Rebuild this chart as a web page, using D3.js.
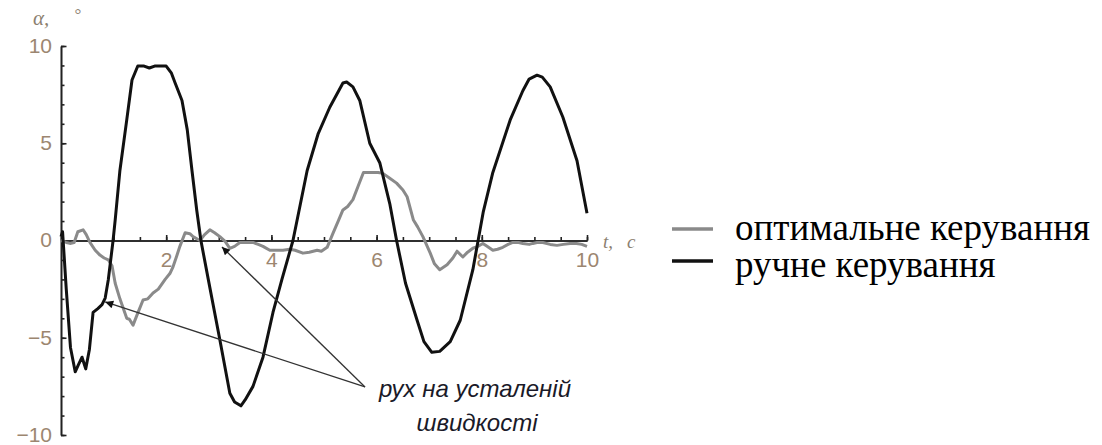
<!DOCTYPE html>
<html>
<head>
<meta charset="utf-8">
<script src="https://cdn.jsdelivr.net/npm/d3@7"></script>
<style>
    body { margin: 0; background: #fff; }
    svg { display: block; }
    .tick text { font-family: "Liberation Sans", Arial, sans-serif; font-size: 21px; fill: #9c8670; }
    .legend { font-family: "Liberation Serif", "Times New Roman", serif; font-size: 37px; fill: #000; }
    .note { font-family: "Liberation Sans", Arial, sans-serif; font-style: italic; font-size: 24px; fill: #1a1a28; }
    .axlabel { font-family: "Liberation Serif", serif; font-style: italic; fill: #8c8070; }
</style>
</head>
<body>
<svg width="1102" height="445"></svg>
<script>
// ручне керування (black)
const tManual = [0, 0.03, 0.1, 0.18, 0.27, 0.33, 0.4, 0.47, 0.54, 0.61, 0.7, 0.78, 0.84, 0.9, 0.99,
    1.03, 1.12, 1.25, 1.35, 1.46, 1.58, 1.68, 1.78, 2.0, 2.1, 2.17, 2.3, 2.4, 2.49, 2.58, 2.66,
    2.8, 3.02, 3.21, 3.3, 3.42, 3.5, 3.65, 3.84, 4.03, 4.2, 4.41, 4.68, 4.89, 5.11, 5.36, 5.43,
    5.55, 5.68, 5.87, 6.06, 6.25, 6.38, 6.55, 6.77, 6.9, 7.05, 7.2, 7.4, 7.59, 7.83, 7.93, 8.03,
    8.21, 8.54, 8.78, 8.9, 9.05, 9.15, 9.3, 9.54, 9.81, 10]
const aManual = [0.2, 0.45, -2.5, -5.5, -6.75, -6.4, -6.0, -6.6, -5.6, -3.7, -3.5, -3.3, -2.96, -2.0, 0,
    1.05, 3.6, 6.2, 8.25, 8.97, 8.97, 8.87, 8.97, 8.97, 8.6, 8.1, 7.2, 5.7, 3.6, 1.57, 0,
    -2.0, -5.1, -7.85, -8.3, -8.5, -8.2, -7.5, -6.0, -3.7, -2.0, 0, 3.6, 5.5, 6.85, 8.1, 8.15,
    7.9, 7.2, 5.0, 4.0, 1.9, 0, -2.2, -4.1, -5.2, -5.75, -5.7, -5.2, -4.1, -1.5, 0, 1.5,
    3.5, 6.2, 7.7, 8.3, 8.5, 8.4, 7.9, 6.35, 4.1, 1.4]

// оптимальне керування (grey)
const tOptimal = [0, 0.1, 0.17, 0.25, 0.32, 0.42, 0.48, 0.55, 0.65, 0.74, 0.82, 0.9, 0.97, 1.03, 1.12,
    1.25, 1.3, 1.37, 1.45, 1.56, 1.65, 1.75, 1.85, 1.98, 2.07, 2.13, 2.2, 2.26, 2.36, 2.45, 2.51,
    2.64, 2.73, 2.83, 2.92, 3.02, 3.12, 3.21, 3.3, 3.4, 3.55, 3.65, 3.75, 3.84, 3.97, 4.1, 4.22,
    4.35, 4.45, 4.6, 4.72, 4.87, 4.95, 5.06, 5.17, 5.27, 5.36, 5.45, 5.55, 5.65, 5.75, 5.93, 6.03,
    6.12, 6.25, 6.38, 6.5, 6.58, 6.7, 6.78, 6.88, 7.02, 7.1, 7.2, 7.34, 7.45, 7.53, 7.64, 7.73,
    7.83, 7.93, 8.02, 8.1, 8.21, 8.3, 8.4, 8.5, 8.59, 8.7, 8.78, 8.9, 8.97, 9.05, 9.16, 9.3,
    9.43, 9.55, 9.68, 9.8, 9.9, 10]
const aOptimal = [0, -0.1, -0.15, -0.1, 0.45, 0.55, 0.3, -0.1, -0.5, -0.75, -0.9, -1.0, -1.3, -2.2, -3.0,
    -4.0, -4.05, -4.35, -3.8, -3.06, -3.0, -2.7, -2.5, -2.0, -1.7, -1.35, -0.8, -0.3, 0.4, 0.35, 0.2,
    0, 0.3, 0.55, 0.4, 0.2, -0.05, -0.4, -0.3, -0.1, -0.1, -0.1, -0.2, -0.3, -0.5, -0.5, -0.5,
    -0.45, -0.5, -0.65, -0.6, -0.5, -0.55, -0.35, 0.37, 1.0, 1.57, 1.75, 2.1, 2.8, 3.5, 3.5, 3.5,
    3.45, 3.2, 2.95, 2.6, 2.25, 1.05, 0.7, 0.2, -0.65, -1.2, -1.5, -1.25, -0.9, -0.55, -0.85, -0.6,
    -0.4, -0.3, -0.15, -0.3, -0.5, -0.45, -0.35, -0.2, -0.1, -0.1, -0.15, -0.2, -0.15, -0.1, -0.1, -0.2,
    -0.25, -0.2, -0.15, -0.15, -0.2, -0.3]

const xMajor = [2, 4, 6, 8, 10]
const xMinor = d3.range(0, 10.01, 0.5)
const yMajor = [-10, -5, 0, 5, 10]
const yMinor = d3.range(-10, 11, 1)

const seriesNames = ['оптимальне керування', 'ручне керування']
const noteLines = ['рух на усталеній', 'швидкості']
// arrow tail and the two points it marks, in [t, α]
const noteTail = [5.78, -7.53]
const noteTips = [[0.84, -3.16], [3.06, -0.33]]

const svg = d3.select('svg')
const x = d3.scaleLinear().domain([0, 10]).range([61, 587])
const y = d3.scaleLinear().domain([-10, 10]).range([435, 46])

function drawAxes () {
    // y axis, ticks point inward
    svg.append('g')
        .attr('transform', `translate(${x(0)},0)`)
        .call(d3.axisLeft(y).tickValues(yMinor).tickSizeInner(-3.5).tickSizeOuter(0).tickFormat(''))
    svg.append('g')
        .attr('transform', `translate(${x(0)},0)`)
        .call(d3.axisLeft(y).tickValues(yMajor).tickSizeInner(-5.5).tickSizeOuter(0).tickPadding(9))
        .call(g => g.selectAll('.tick text').attr('dy', '0.3em'))

    svg.append('g')
        .attr('transform', `translate(0,${y(0)})`)
        .call(d3.axisBottom(x).tickValues(xMinor).tickSizeInner(-3.5).tickSizeOuter(0).tickFormat(''))
    svg.append('g')
        .attr('transform', `translate(0,${y(0)})`)
        .call(d3.axisBottom(x).tickValues(xMajor).tickSizeInner(-5.5).tickSizeOuter(0).tickPadding(12))

    svg.selectAll('.domain, .tick line').attr('stroke', '#222').attr('stroke-width', 1.6)

    const al = svg.append('text').attr('class', 'axlabel').attr('font-size', 21)
    al.append('tspan').attr('x', 33).attr('y', 25).text('α,')
    al.append('tspan').attr('x', 74).attr('y', 20).attr('font-size', 17).text('°')

    const tl = svg.append('text').attr('class', 'axlabel').attr('font-size', 19)
    tl.append('tspan').attr('x', 603).attr('y', 248).text('t,')
    tl.append('tspan').attr('x', 627).attr('y', 248).text('c')
}

function drawLines () {
    const line = d3.line().x(d => x(d[0])).y(d => y(d[1]))
    svg.append('path')
        .datum(d3.zip(tOptimal, aOptimal))
        .attr('d', line)
        .attr('fill', 'none')
        .attr('stroke', '#8a8a8a')
        .attr('stroke-width', 3)
        .attr('stroke-linejoin', 'round')
    svg.append('path')
        .datum(d3.zip(tManual, aManual))
        .attr('d', line)
        .attr('fill', 'none')
        .attr('stroke', '#111')
        .attr('stroke-width', 3)
        .attr('stroke-linejoin', 'round')
}

function drawNote () {
    svg.append('defs').append('marker')
        .attr('id', 'head')
        .attr('viewBox', '0 0 10 10')
        .attr('refX', 10).attr('refY', 5)
        .attr('markerWidth', 15).attr('markerHeight', 8)
        .attr('markerUnits', 'userSpaceOnUse')
        .attr('orient', 'auto')
        .append('path').attr('d', 'M0,0L10,5L0,10z').attr('fill', '#111')

    noteTips.forEach(p => {
        svg.append('line')
            .attr('x1', x(noteTail[0])).attr('y1', y(noteTail[1]))
            .attr('x2', x(p[0])).attr('y2', y(p[1]))
            .attr('stroke', '#333')
            .attr('stroke-width', 1.3)
            .attr('marker-end', 'url(#head)')
    })

    svg.append('text').attr('class', 'note')
        .attr('x', 475).attr('y', 397).attr('text-anchor', 'middle').text(noteLines[0])
    svg.append('text').attr('class', 'note')
        .attr('x', 477).attr('y', 431).attr('text-anchor', 'middle').text(noteLines[1])
}

function drawLegend () {
    const rows = [{ c: '#8a8a8a', y: 229, base: 240 }, { c: '#111', y: 261, base: 277 }]
    rows.forEach((r, i) => {
        svg.append('line')
            .attr('x1', 672).attr('x2', 713)
            .attr('y1', r.y).attr('y2', r.y)
            .attr('stroke', r.c).attr('stroke-width', 3.5)
        svg.append('text').attr('class', 'legend')
            .attr('x', 735).attr('y', r.base)
            .text(seriesNames[i])
    })
}

drawAxes()
drawLines()
drawNote()
drawLegend()
</script>
</body>
</html>
